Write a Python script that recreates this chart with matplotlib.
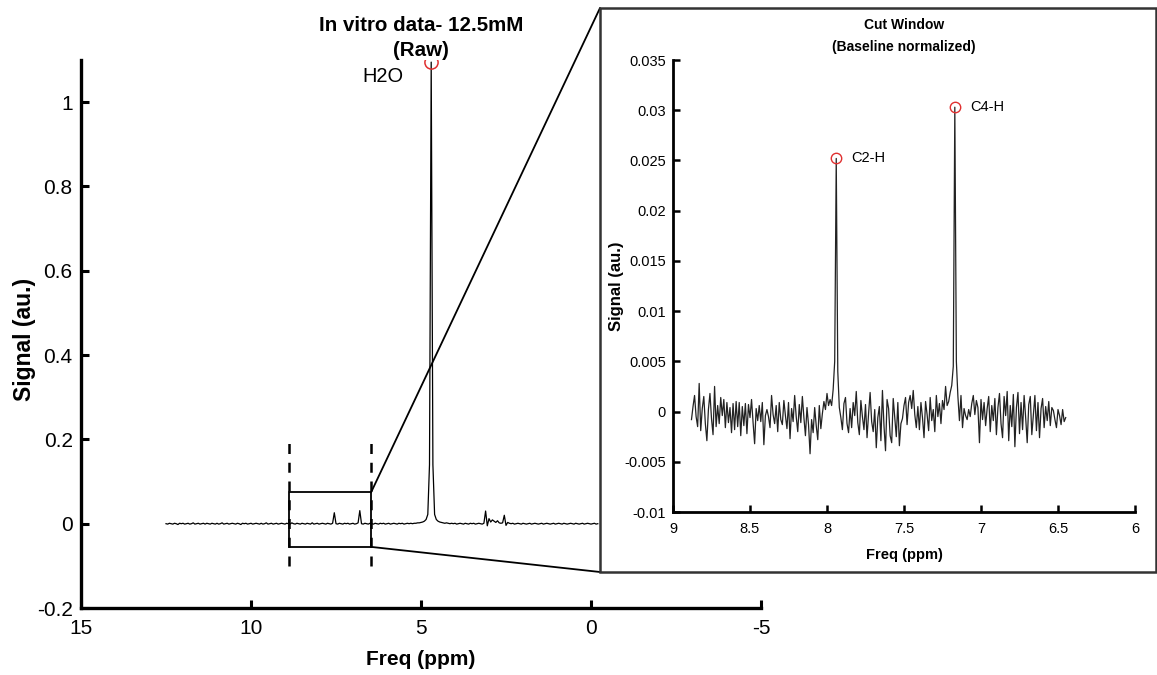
import numpy as np
import matplotlib
matplotlib.use('Agg')
import matplotlib.pyplot as plt
from matplotlib.patches import Rectangle, ConnectionPatch
from matplotlib.ticker import FuncFormatter

plt.rcParams['font.family'] = ['Liberation Sans', 'DejaVu Sans']
plt.rcParams['axes.unicode_minus'] = False

# raw spectrum, 12.5 -> -0.2 ppm, values in 1e-3 a.u.
raw_start, raw_stop = 12.5, -0.2
raw_sig = [
    0, -1, 1, 0, -1, 1, 0, -2, 1, 0,
    1, -1, 0, 1, -1, 0, 2, -1, 0, 1,
    -1, 0, 1, -1, 1, 0, -1, 1, 0, -1,
    1, -1, 0, 2, -1, 0, 1, -1, 0, 1,
    0, -1, 1, 0, -2, 1, 0, 1, -1, 0,
    1, -1, 0, 1, 0, -1, 1, -1, 0, 2,
    -1, 0, 1, -1, 0, 1, -1, 0, 1, 0,
    -1, 1, 0, -1, 2, 0, -1, 1, 0, -1,
    1, 0, -1, 1, 0, -1, 2, -1, 0, 1,
    -1, 0, 1, 0, -1, 1, 0, -1, 1, 26,
    0, -1, 1, 0, -1, 1, 0, 1, -1, 0,
    1, -1, 0, 2, 31, 0, -1, 1, 0, -1,
    1, 0, -1, 1, 0, -1, 1, 0, 1, -1,
    0, 1, -1, 0, 1, 0, -1, 1, 0, 1,
    -1, 0, 1, 0, 1, 0, 1, 1, 2, 2,
    3, 4, 6, 10, 22, 140, 1095, 140, 22, 10,
    6, 4, 3, 2, 1, 2, 1, 0, 1, 0,
    1, -1, 0, 1, 0, -1, 1, 0, -1, 1,
    0, 1, -1, 0, 1, 0, -1, 1, 30, -5,
    12, 4, 9, 6, 3, 7, 2, 1, 2, 20,
    -4, 3, 1, 0, 1, -1, 0, 1, 0, -1,
    1, 0, -1, 0, 1, -1, 0, 1, 0, -1,
    0, 1, -1, 0, 1, 0, -1, 0, 1, -1,
    0, 1, 0, -1, 1, 0, -1, 0, 1, 0,
    -1, 1, 0, -1, 0, 1, -1, 0, 1, 0,
    -1, 0, 1, -1, 0,
]

# cut window, 8.88 -> 6.45 ppm, baseline normalized, values in 1e-3 a.u.
cut_start, cut_stop = 8.88, 6.45
cut_sig = [
    -0.8, 0.5, 1.6, -0.5, -1.5, 2.8, -1.9, 0.3, 1.5, -1.2,
    -2.9, 0.2, 1.8, -0.7, -2.3, 2.5, -1.5, 0.6, -1.2, 1.4,
    -0.4, 1.2, -1.6, 0.9, -1.1, 0.4, -2.1, 0.8, -1.8, 1.0,
    -1.5, 0.9, -2.4, 0.5, -1.4, 0.8, -2.2, 0.7, -0.6, 1.2,
    -1.1, -3.2, 0.3, -0.9, 0.6, -1.0, 0.9, -3.3, -0.4, 0.2,
    -0.5, -1.6, 1.6, -0.3, -1.2, 0.6, -2.0, 0.9, -0.8, -1.3,
    1.1, -0.4, -1.7, 0.9, -2.7, 0.3, -1.0, 1.6, -0.5, -2.0,
    0.7, -1.1, 1.5, -0.6, -2.4, 0.4, -1.3, -4.2, -0.8, -2.1,
    0.4, -1.4, -2.8, 0.6, -1.7, -0.2, 1.0, 0.2, 1.8, 0.6,
    1.2, 0.6, 2.2, 5.0, 25.2, 4.0, 0.4, -0.6, -1.8, 0.8,
    1.4, -1.2, -2.1, 0.3, -1.6, 0.9, -0.4, 2.0, -1.1, -2.3,
    1.1, -0.5, -1.8, 0.7, -2.6, -0.2, 1.9, -1.0, -2.0, 0.2,
    -3.6, -0.6, 0.5, -2.9, 2.1, -1.4, -3.9, 1.2, 0.3, -2.4,
    -3.1, 1.3, -0.6, -2.5, 0.9, -3.4, -1.2, -0.7, 0.6, 1.4,
    -1.3, 0.9, 1.6, 0.3, 2.1, -0.3, -1.6, 0.5, -1.8, 0.9,
    -0.6, -2.6, 1.0, -0.3, -1.9, 1.4, -0.9, 0.2, -2.0, 1.6,
    -0.5, 0.8, -1.2, 1.1, 0.2, 2.5, 0.6, 1.0, 1.9, 2.6,
    4.5, 30.3, 5.0, 1.5,
    -0.9, 1.6, -1.6, 0.3, -0.4, -0.8,
    0.2, -0.5, 0.8, 1.6, -0.3, 1.1, 0.4, -3.1, 1.2, -0.8,
    0.9, -1.4, 0.3, 1.5, -2.0, 0.6, -0.9, 1.3, -2.3, 0.4,
    1.8, -1.2, -2.6, 1.5, -0.4, 2.0, -2.9, 0.6, -1.5, 1.7,
    -3.5, 0.4, 1.9, -2.2, 0.9, -1.8, 1.6, -0.6, -3.1, 0.7,
    1.5, -2.3, -0.4, 1.6, -1.9, 0.9, -2.6, 0.3, 1.3, -1.6,
    0.5, -0.9, 1.0, -1.4, 0.4, 0.1, -0.8, -1.6, 0.2, -0.4,
    -1.3, 0.2, -1.0, -0.6,
]
cut_peaks = ['C2-H', 'C4-H']
cut_peak_idx = [94, 171]

# zoom box drawn on the raw spectrum
box_ppm = [8.87, 6.47]
box_sig = [-0.055, 0.074]
dash_sig = [-0.10, 0.20]

raw_ppm = np.linspace(raw_start, raw_stop, len(raw_sig))
raw_y = np.array(raw_sig) * 1e-3
cut_ppm = np.linspace(cut_start, cut_stop, len(cut_sig))
cut_y = np.array(cut_sig) * 1e-3

W, H = 1157, 675
fig = plt.figure(figsize=(W / 100, H / 100), dpi=100)
fmt = FuncFormatter(lambda v, p: '%g' % round(v, 6))

# main axes
ax = fig.add_axes([81 / W, 1 - 608 / H, 680 / W, 548 / H])
ax.plot(raw_ppm, raw_y, color='black', lw=0.9)
i = np.argmax(raw_y)
ax.plot(raw_ppm[i], raw_y[i], 'o', mfc='none', mec='#e03030', ms=9.5, mew=1.1)
ax.text(raw_ppm[i] + 0.8, raw_y[i] - 0.035, 'H2O', fontsize=14.4, ha='right', va='center')

ax.add_patch(Rectangle((box_ppm[0], box_sig[0]), box_ppm[1] - box_ppm[0], box_sig[1] - box_sig[0],
                       fill=False, ec='black', lw=1.3))
for xp in box_ppm:
    ax.plot([xp, xp], dash_sig, color='black', lw=1.8, dashes=(4, 3.5))

ax.set_xlim(15, -5)
ax.set_ylim(-0.2, 1.1)
ax.set_xticks([15, 10, 5, 0, -5])
ax.set_yticks([-0.2, 0, 0.2, 0.4, 0.6, 0.8, 1.0])
ax.xaxis.set_major_formatter(fmt)
ax.yaxis.set_major_formatter(fmt)
for s in ['top', 'right']:
    ax.spines[s].set_visible(False)
for s in ['left', 'bottom']:
    ax.spines[s].set_linewidth(2.4)
ax.tick_params(direction='in', length=6, width=2.2, labelsize=15)
ax.tick_params(axis='x', pad=8)
ax.tick_params(axis='y', pad=6)
ax.set_title('In vitro data- 12.5mM\n(Raw)', fontsize=14.8, fontweight='bold', pad=2, linespacing=1.4)
ax.set_xlabel('Freq (ppm)', fontsize=15, fontweight='bold')
ax.xaxis.set_label_coords(0.5, -0.077)
ax.set_ylabel('Signal (au.)', fontsize=16.5, fontweight='bold')
ax.yaxis.set_label_coords(-0.066, 0.49)

# inset panel frame
px0, py0, px1, py1 = 600, 8, 1156, 572
panel = Rectangle((px0 / W, 1 - py1 / H), (px1 - px0) / W, (py1 - py0) / H,
                  transform=fig.transFigure, fc='white', ec='#333333', lw=1.8, zorder=1.5)
fig.add_artist(panel)
for yb, yc in [(box_sig[1], py0), (box_sig[0], py1)]:
    con = ConnectionPatch(xyA=(box_ppm[1], yb), coordsA=ax.transData,
                          xyB=(px0 / W, 1 - yc / H), coordsB='figure fraction',
                          color='black', lw=1.3, zorder=1.4)
    fig.add_artist(con)

# inset axes
ax2 = fig.add_axes([673 / W, 1 - 512 / H, 462 / W, 452 / H])
ax2.set_zorder(2)
ax2.plot(cut_ppm, cut_y, color='#222222', lw=0.9)
for name, k in zip(cut_peaks, cut_peak_idx):
    ax2.plot(cut_ppm[k], cut_y[k], 'o', mfc='none', mec='#e03030', ms=7.5, mew=1.0)
    ax2.annotate(name, (cut_ppm[k], cut_y[k]), xytext=(11, 0), textcoords='offset points',
                 fontsize=10.5, va='center')
ax2.set_xlim(9, 6)
ax2.set_ylim(-0.01, 0.035)
ax2.set_xticks(np.arange(9, 5.99, -0.5))
ax2.set_yticks(np.arange(-0.01, 0.0351, 0.005))
ax2.xaxis.set_major_formatter(fmt)
ax2.yaxis.set_major_formatter(fmt)
for s in ['top', 'right']:
    ax2.spines[s].set_visible(False)
for s in ['left', 'bottom']:
    ax2.spines[s].set_linewidth(2.0)
ax2.tick_params(direction='in', length=5, width=1.8, labelsize=10.5)
ax2.tick_params(axis='x', pad=7)
ax2.tick_params(axis='y', pad=5)
ax2.text(0.5, 1 + 35 / 452, 'Cut Window', transform=ax2.transAxes,
         ha='center', va='center', fontsize=10, fontweight='bold')
ax2.text(0.5, 1 + 13 / 452, '(Baseline normalized)', transform=ax2.transAxes,
         ha='center', va='center', fontsize=10, fontweight='bold')
ax2.set_xlabel('Freq (ppm)', fontsize=10.5, fontweight='bold')
ax2.xaxis.set_label_coords(0.5, -0.08)
ax2.set_ylabel('Signal (au.)', fontsize=12, fontweight='bold')
ax2.yaxis.set_label_coords(-0.105, 0.5)

fig.savefig('out.png', dpi=100)
